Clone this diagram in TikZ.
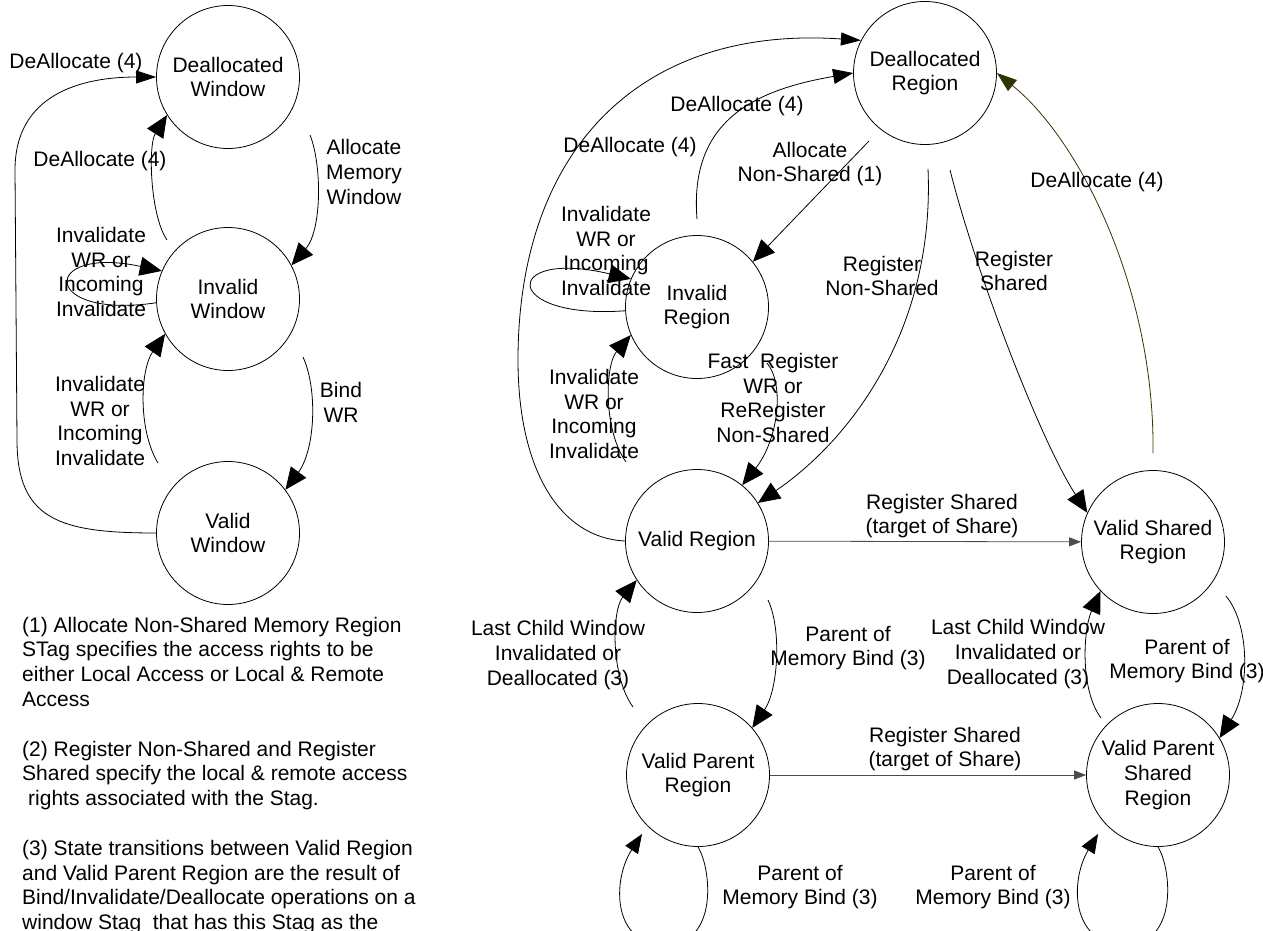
\documentclass[tikz,border=0pt]{standalone}
\usepackage{fontspec}
\setmainfont{Liberation Sans}
\usetikzlibrary{arrows.meta,calc}
\definecolor{dkolive}{RGB}{51,51,0}

\begin{document}
\begin{tikzpicture}[x=1pt,y=-1pt,
  every node/.style={font=\fontsize{21pt}{24.8pt}\selectfont},
  state/.style={draw, circle, minimum size=143pt, inner sep=0pt, align=center, line width=0.8pt},
  lbl/.style={align=center, inner sep=0pt},
  edge/.style={draw, line width=0.8pt},
  bigtip/.style={-{Triangle[length=22pt,width=19pt]}},
  midtip/.style={-{Triangle[length=20pt,width=13pt]}},
  smalltip/.style={-{Triangle[length=12pt,width=9pt]}},
]
\useasboundingbox (0,0) rectangle (1263,930);
\clip (0,0) rectangle (1263,930);

% ---------------- window states ----------------
\node[state] (dw) at (228,77)  {Deallocated\\Window};
\node[state] (iw) at (228,299) {Invalid\\Window};
\node[state] (vw) at (228,533) {Valid\\Window};

% ---------------- region states ----------------
\node[state] (dr)   at (925,73)   {Deallocated\\Region};
\node[state] (ir)   at (697,307)  {Invalid\\Region};
\node[state] (vr)   at (697,541)  {Valid Region};
\node[state] (vsr)  at (1153,542) {Valid Shared\\Region};
\node[state] (vpr)  at (698,775)  {Valid Parent\\Region};
\node[state] (vpsr) at (1158,775) {Valid Parent\\Shared\\Region};

% ---------------- window transitions ----------------
\draw[edge, midtip] (vw.west) .. controls (60,533) and (17,520) .. (17,440)
  -- (15,170) .. controls (15,95) and (80,77) .. (dw.west);
\node[lbl] (lw1) at (76,63) {DeAllocate (4)};

\coordinate (iwup) at ($(iw.center)+(-61,-59)$);
\draw[edge, bigtip] (iwup) .. controls (150,215) and (148,145) .. (dw.212);
\node[lbl] (lw2) at (100,161) {DeAllocate (4)};

\coordinate (dwdn) at ($(dw.center)+(82,58)$);
\draw[edge, bigtip] (dwdn) .. controls (322,165) and (322,230) .. (iw.28);
\node[lbl] (lw3) at (364,172) {Allocate\\Memory\\Window};

\draw[edge, bigtip] (iw.183) .. controls (40,320) and (40,245) .. (iw.157);
\node[lbl] (lw4) at (101,272) {Invalidate\\WR or\\Incoming\\Invalidate};

\coordinate (vwup) at ($(vw.center)+(-70,-70)$);
\draw[edge, bigtip] (vwup) .. controls (138,430) and (140,370) .. (iw.209);
\node[lbl] (lw5) at (100,421) {Invalidate\\WR or\\Incoming\\Invalidate};

\coordinate (iwdn) at ($(iw.center)+(75,58)$);
\draw[edge, bigtip] (iwdn) .. controls (318,390) and (315,450) .. (vw.37);
\node[lbl] (lw6) at (341,402) {Bind\\WR};

% ---------------- region transitions ----------------
\draw[edge, midtip] (vr.west) .. controls (560,538) and (518,470) .. (518,360)
  .. controls (518,150) and (640,25) .. (dr.153);
\node[lbl] (lr1) at (630,147) {DeAllocate (4)};

\coordinate (irup) at ($(ir.north)+(0,-16)$);
\draw[edge, -{Triangle[length=20pt,width=15pt]}] (irup) .. controls (689,120) and (755,90) .. (dr.west);
\node[lbl] (lr2) at (737,106) {DeAllocate (4)};

\coordinate (drsw) at ($(dr.center)+(-56,68)$);
\draw[edge, bigtip] (drsw) -- (ir.39);
\node[lbl] (lr3) at (810,164) {Allocate\\Non-Shared (1)};

\draw[edge, bigtip] (ir.183) .. controls (501,320) and (501,248) .. (ir.157);
\node[lbl] (lr4) at (606,251) {Invalidate\\WR or\\Incoming\\Invalidate};

\coordinate (drs1) at ($(dr.south)+(3,24)$);
\draw[edge, bigtip] (drs1) .. controls (935,330) and (850,440) .. (vr.32);
\node[lbl] (lr5) at (882,276) {Register\\Non-Shared};

\coordinate (drs2) at ($(dr.south)+(25,25)$);
\draw[edge, bigtip] (drs2) .. controls (975,270) and (1040,440) .. (vsr.156);
\node[lbl] (lr6) at (1014,271) {Register\\Shared};

\coordinate (vsrup) at ($(vsr.north)+(0,-17)$);
\draw[edge, draw=dkolive, -{Triangle[length=20pt,width=14pt]}] (vsrup) .. controls (1155,290) and (1080,140) .. (dr.east);
\node[lbl] (lr7) at (1097,182) {DeAllocate (4)};

\coordinate (irdn) at ($(ir.center)+(70,56)$);
\draw[edge, bigtip] (irdn) .. controls (785,385) and (778,440) .. (vr.51);
\node[lbl] (lr8) at (773,398) {Fast\ \ Register\\WR or\\ReRegister\\Non-Shared};

\coordinate (vrup) at ($(vr.center)+(-71,-79)$);
\draw[edge, bigtip] (vrup) .. controls (603,430) and (605,365) .. (ir.203);
\node[lbl] (lr9) at (594,414) {Invalidate\\WR or\\Incoming\\Invalidate};

\draw[edge, draw=black!70, smalltip] (vr) -- (vsr);
\node[lbl] (lr10) at (942,516) {Register Shared\\(target of Share)};

\coordinate (vprup) at ($(vpr.center)+(-65,-68)$);
\draw[edge, bigtip] (vprup) .. controls (610,675) and (612,610) .. (vr.213);
\node[lbl] (lr11) at (558,655) {Last Child Window\\Invalidated or\\Deallocated (3)};

\coordinate (vrdn) at ($(vr.center)+(71,59)$);
\draw[edge, bigtip] (vrdn) .. controls (782,630) and (778,690) .. (vpr.41);
\node[lbl] (lr12) at (848,648) {Parent of\\Memory Bind (3)};

\coordinate (vpsrup) at ($(vpsr.center)+(-57,-57)$);
\draw[edge, bigtip] (vpsrup) .. controls (1080,690) and (1083,630) .. (vsr.223);
\node[lbl] (lr13) at (1018,654) {Last Child Window\\Invalidated or\\Deallocated (3)};

\coordinate (vsrdn) at ($(vsr.center)+(73,54)$);
\draw[edge, bigtip] (vsrdn) .. controls (1250,625) and (1250,690) .. (vpsr.31);
\node[lbl] (lr14) at (1187,661) {Parent of\\Memory Bind (3)};

\draw[edge, draw=black!70, smalltip] (vpr) -- (vpsr);
\node[lbl] (lr15) at (945,749) {Register Shared\\(target of Share)};

\coordinate (vprin) at ($(vpr.center)+(-56,59)$);
\draw[edge, -{Triangle[length=19pt,width=15pt]}] (vpr.south) .. controls (712,870) and (718,945) .. (665,945)
  .. controls (612,945) and (612,880) .. (vprin);
\node[lbl] (lr16) at (800,887) {Parent of\\Memory Bind (3)};

\coordinate (vpsrin) at ($(vpsr.center)+(-60,59)$);
\draw[edge, -{Triangle[length=19pt,width=15pt]}] (vpsr.south) .. controls (1172,870) and (1178,945) .. (1125,945)
  .. controls (1070,945) and (1070,880) .. (vpsrin);
\node[lbl] (lr17) at (993,887) {Parent of\\Memory Bind (3)};

% ---------------- notes ----------------
\foreach \n/\txt in {1/{(1) Allocate Non-Shared Memory Region},
                     2/{STag specifies the access rights to be},
                     3/{either Local Access or Local \& Remote},
                     4/{Access},
                     6/{(2) Register Non-Shared and Register},
                     7/{Shared specify the local \& remote access},
                     8/{\hspace*{6pt}rights associated with the Stag.},
                     10/{(3) State transitions between Valid Region},
                     11/{and Valid Parent Region are the result of},
                     12/{Bind/Invalidate/Deallocate operations on a},
                     13/{window Stag\ \ that has this Stag as the}}
  \node[anchor=base west, inner sep=0pt] (fn\n) at (22,{632+24.8*(\n-1)}) {\txt};

\end{tikzpicture}
\end{document}
